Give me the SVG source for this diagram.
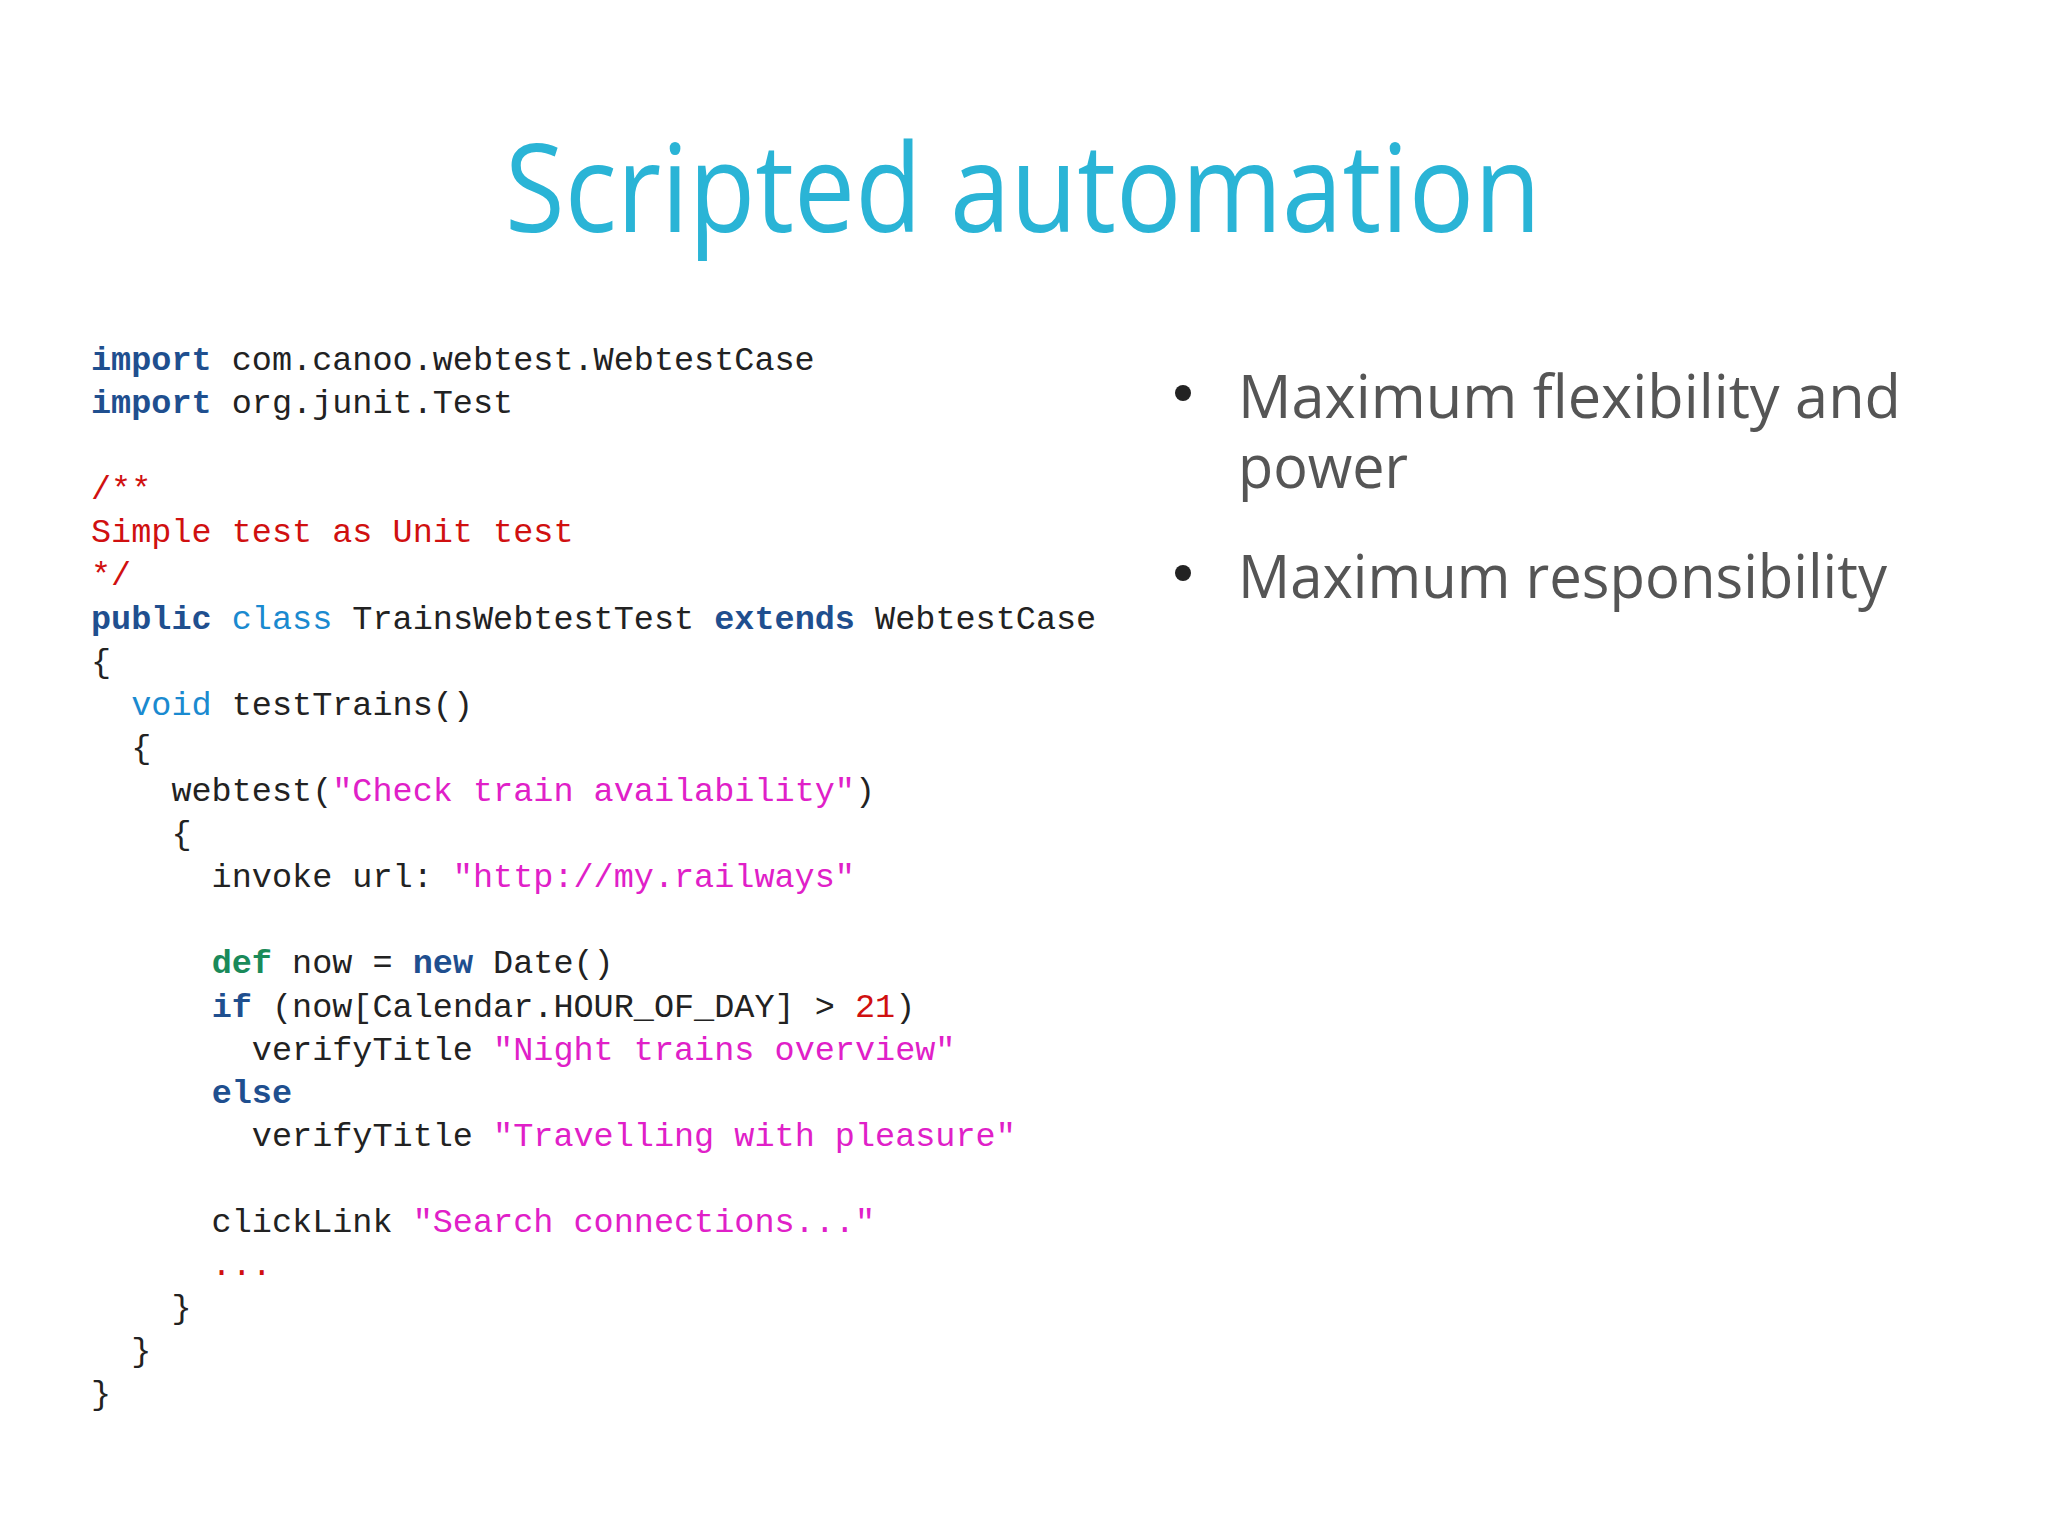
<svg xmlns="http://www.w3.org/2000/svg" width="2048" height="1535" viewBox="0 0 2048 1535">
<style>
.c{font-family:"Liberation Mono","DejaVu Sans Mono",monospace;font-size:33.5px;fill:#222;white-space:pre}
.k{fill:#1f4f8f;font-weight:bold}
.t{fill:#1a8ad0}
.d{fill:#1a8a5a;font-weight:bold}
.r{fill:#d01010}
.s{fill:#e020c8}
.b{font-family:"Open Sans","DejaVu Sans",sans-serif;font-size:60px;fill:#555}
</style>
<rect width="2048" height="1535" fill="#fff"/>
<g id="title"><text x="1023" y="232" text-anchor="middle" font-family="'Open Sans','DejaVu Sans',sans-serif" font-size="122" fill="#2ab4d6" textLength="1036" lengthAdjust="spacingAndGlyphs">Scripted automation</text></g>
<g id="bullets">
<circle cx="1183" cy="393" r="8" fill="#222"/>
<circle cx="1183" cy="573" r="8" fill="#222"/>
<text class="b" x="1238" y="418" textLength="663" lengthAdjust="spacingAndGlyphs">Maximum flexibility and</text>
<text class="b" x="1238" y="488" textLength="170" lengthAdjust="spacingAndGlyphs">power</text>
<text class="b" x="1238" y="598" textLength="649" lengthAdjust="spacingAndGlyphs">Maximum responsibility</text>
</g>
<g id="code" xml:space="preserve">
<text class="c" x="91" y="370"><tspan class="k">import</tspan> com.canoo.webtest.WebtestCase</text>
<text class="c" x="91" y="413"><tspan class="k">import</tspan> org.junit.Test</text>
<text class="c r" x="91" y="499">/**</text>
<text class="c r" x="91" y="542">Simple test as Unit test</text>
<text class="c r" x="91" y="585">*/</text>
<text class="c" x="91" y="629"><tspan class="k">public</tspan> <tspan class="t">class</tspan> TrainsWebtestTest <tspan class="k">extends</tspan> WebtestCase</text>
<text class="c" x="91" y="672">{</text>
<text class="c" x="91" y="715">  <tspan class="t">void</tspan> testTrains()</text>
<text class="c" x="91" y="758">  {</text>
<text class="c" x="91" y="801">    webtest(<tspan class="s">"Check train availability"</tspan>)</text>
<text class="c" x="91" y="844">    {</text>
<text class="c" x="91" y="887">      invoke url: <tspan class="s">"http://my.railways"</tspan></text>
<text class="c" x="91" y="973">      <tspan class="d">def</tspan> now = <tspan class="k">new</tspan> Date()</text>
<text class="c" x="91" y="1017">      <tspan class="k">if</tspan> (now[Calendar.HOUR_OF_DAY] &gt; <tspan class="r">21</tspan>)</text>
<text class="c" x="91" y="1060">        verifyTitle <tspan class="s">"Night trains overview"</tspan></text>
<text class="c" x="91" y="1103">      <tspan class="k">else</tspan></text>
<text class="c" x="91" y="1146">        verifyTitle <tspan class="s">"Travelling with pleasure"</tspan></text>
<text class="c" x="91" y="1232">      clickLink <tspan class="s">"Search connections..."</tspan></text>
<text class="c r" x="91" y="1275">      ...</text>
<text class="c" x="91" y="1318">    }</text>
<text class="c" x="91" y="1361">  }</text>
<text class="c" x="91" y="1404">}</text>
</g>
</svg>
